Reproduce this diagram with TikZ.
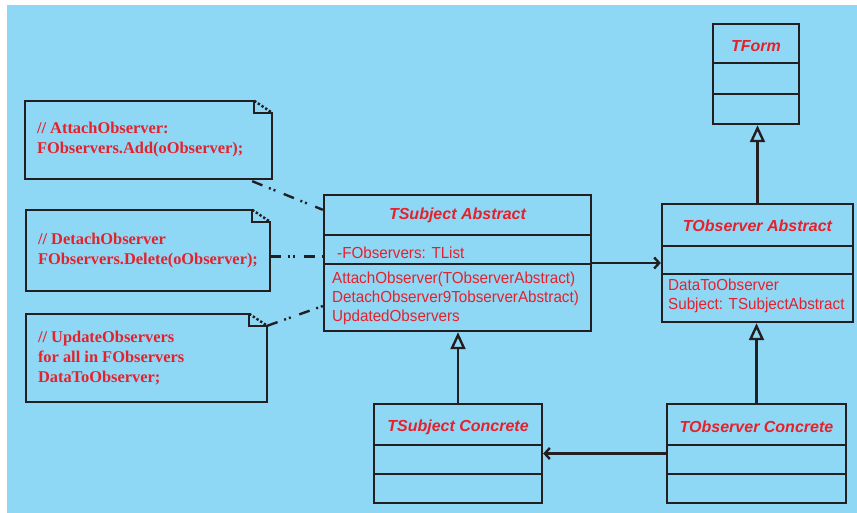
\documentclass[tikz,border=0pt]{standalone}
\usepackage{fontspec}
\setmainfont{Liberation Sans}
\newfontfamily\notefont{Liberation Serif}
\newfontfamily\bodyfont[FakeStretch=0.95]{Liberation Sans}
\usetikzlibrary{arrows.meta}
\definecolor{bgblue}{HTML}{8ED8F6}
\definecolor{linecol}{HTML}{231F20}
\definecolor{txtred}{HTML}{E5212B}
% folded corner of a note
\newcommand{\notefold}[1]{%
  \draw[linecol,line width=2.4pt] (#1.south west) -- (#1.north west) -- ([xshift=-18pt]#1.north east)
    -- ([xshift=-18pt,yshift=-12pt]#1.north east) -- ([yshift=-12pt]#1.north east) -- (#1.south east) -- cycle;
  \draw[linecol,line width=2.4pt,dotted] ([xshift=-18pt]#1.north east) -- ([yshift=-12pt]#1.north east);}
\begin{document}
\begin{tikzpicture}[x=1pt,y=-1pt,
  classbox/.style={draw=linecol,line width=2.4pt,inner sep=0pt},
  classname/.style={text=txtred,font=\fontsize{16}{19}\selectfont\bfseries\itshape},
  classtext/.style={text=txtred,font=\bodyfont\fontsize{16}{19}\selectfont,align=left,anchor=west,inner sep=0pt},
  notebox/.style={inner sep=0pt},
  notetext/.style={text=txtred,font=\notefont\fontsize{16.4}{20}\selectfont\bfseries,align=left,anchor=west,inner sep=0pt},
  divider/.style={draw=linecol,line width=2.4pt},
  inherit/.style={draw=linecol,line width=2.4pt,-{Triangle[open,length=17pt,width=15pt]}},
  assoc/.style={draw=linecol,line width=2.4pt,-{Straight Barb[length=5pt,width=11pt]}},
  anchorline/.style={draw=linecol,line width=2.4pt,dash pattern=on 11pt off 7pt on 2pt off 3pt on 2pt off 9pt}]
  \useasboundingbox (0,0) rectangle (857,513);
  \fill[bgblue] (7,5) rectangle (857,513);

  % classes
  \node[classbox,minimum width=86pt,minimum height=100pt] (tform) at (756,74) {};
  \draw[divider] ([yshift=-40pt]tform.north west) -- ([yshift=-40pt]tform.north east);
  \draw[divider] ([yshift=-71pt]tform.north west) -- ([yshift=-71pt]tform.north east);
  \node[classname] (tformname) at (756,46) {TForm};

  \node[classbox,minimum width=191pt,minimum height=118pt] (obsabs) at (757.5,263) {};
  \draw[divider] ([yshift=-43pt]obsabs.north west) -- ([yshift=-43pt]obsabs.north east);
  \draw[divider] ([yshift=-71pt]obsabs.north west) -- ([yshift=-71pt]obsabs.north east);
  \node[classname] (obsabsname) at (757.5,226) {TObserver Abstract};
  \node[classtext] (obsabsops) at (668,296) {DataToObserver\\Subject: TSubjectAbstract};

  \node[classbox,minimum width=267pt,minimum height=136pt] (subabs) at (457.5,263) {};
  \draw[divider] ([yshift=-41pt]subabs.north west) -- ([yshift=-41pt]subabs.north east);
  \draw[divider] ([yshift=-70pt]subabs.north west) -- ([yshift=-70pt]subabs.north east);
  \node[classname] (subabsname) at (457.5,215) {TSubject Abstract};
  \node[classtext] (subabsattr) at (337,253) {-FObservers: TList};
  \node[classtext] (subabsops) at (332,298) {AttachObserver(TObserverAbstract)\\DetachObserver9TobserverAbstract)\\UpdatedObservers};

  \node[classbox,minimum width=168pt,minimum height=99pt] (subconc) at (458,453.5) {};
  \draw[divider] ([yshift=-42pt]subconc.north west) -- ([yshift=-42pt]subconc.north east);
  \draw[divider] ([yshift=-71pt]subconc.north west) -- ([yshift=-71pt]subconc.north east);
  \node[classname] (subconcname) at (458,427) {TSubject Concrete};

  \node[classbox,minimum width=179pt,minimum height=99pt] (obsconc) at (756.5,453.5) {};
  \draw[divider] ([yshift=-42pt]obsconc.north west) -- ([yshift=-42pt]obsconc.north east);
  \draw[divider] ([yshift=-71pt]obsconc.north west) -- ([yshift=-71pt]obsconc.north east);
  \node[classname] (obsconcname) at (756.5,427) {TObserver Concrete};

  % notes
  \node[notebox,minimum width=247pt,minimum height=78pt] (note1) at (148.5,140) {};
  \notefold{note1}
  \node[notetext] (note1text) at ([xshift=12pt]note1.west) {// AttachObserver:\\FObservers.Add(oObserver);};
  \node[notebox,minimum width=244pt,minimum height=81pt] (note2) at (148,250.5) {};
  \notefold{note2}
  \node[notetext] (note2text) at ([xshift=12pt]note2.west) {// DetachObserver\\FObservers.Delete(oObserver);};
  \node[notebox,minimum width=241pt,minimum height=88pt] (note3) at (146.5,358) {};
  \notefold{note3}
  \node[notetext] (note3text) at ([xshift=12pt]note3.west) {// UpdateObservers\\for all in FObservers\\DataToObserver;};

  % connectors
  \draw[inherit] (obsabs.north) -- (obsabs.north |- tform.south);
  \draw[inherit] (obsconc.north) -- (obsconc.north |- obsabs.south);
  \draw[inherit] (subconc.north) -- (subconc.north |- subabs.south);
  \draw[assoc] (subabs.east) -- (subabs.east -| obsabs.west);
  \draw[assoc] (obsconc.west) -- (obsconc.west -| subconc.east);
  \draw[anchorline] ([xshift=-20pt,yshift=-2pt]note1.south east) -- ([yshift=-16pt]subabs.north west);
  \draw[anchorline] ([yshift=-6pt]note2.east) -- ([yshift=-6pt]note2.east -| subabs.west);
  \draw[anchorline] ([yshift=-12pt]note3.north east) -- ([yshift=-43pt]subabs.west);
\end{tikzpicture}
\end{document}
